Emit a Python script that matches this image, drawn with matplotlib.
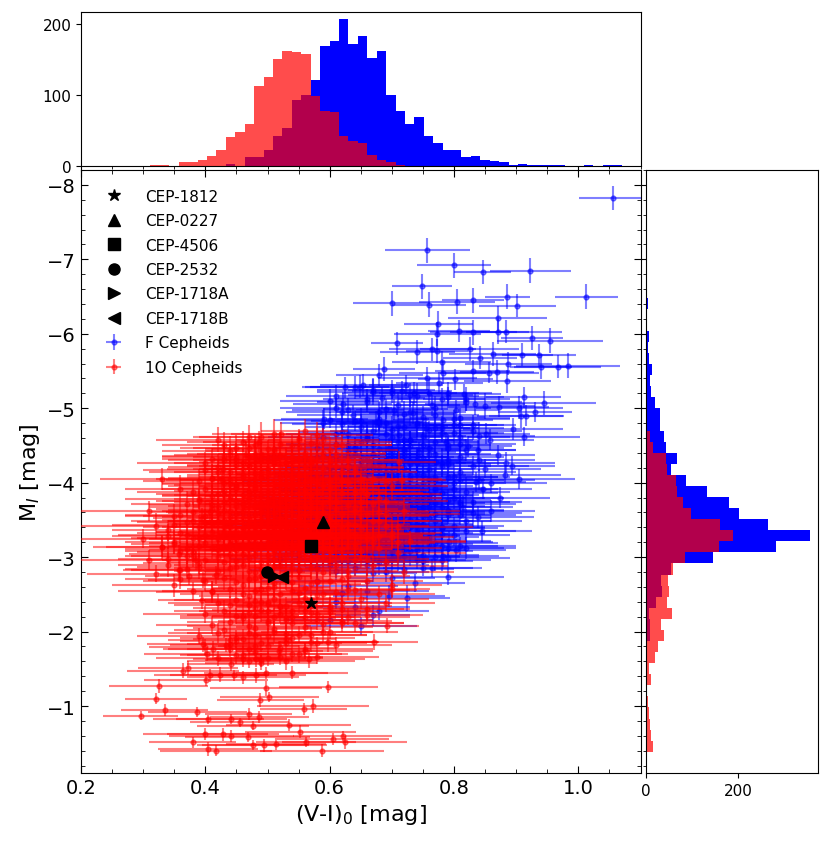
import numpy as np
import matplotlib.pyplot as plt
from matplotlib.ticker import MultipleLocator

# ---------------- marginal histograms (counts) ----------------
# (V-I)_0 bins: first edge and width, 51 bins
COL_BIN0 = 0.2966
COL_BINW = 0.01516
f_col_counts = [0, 0, 0, 0, 0, 0, 0, 0, 0, 3, 0, 12, 12, 22, 42, 54, 93, 100,
                121, 169, 175, 206, 172, 183, 152, 161, 100, 77, 59, 69, 42, 32,
                23, 22, 12, 14, 9, 7, 5, 2, 3, 1, 2, 1, 1, 0, 0, 1, 0, 1, 1]
o_col_counts = [0, 1, 1, 0, 5, 6, 8, 14, 22, 41, 48, 59, 112, 125, 150, 162, 160, 157,
                98, 77, 76, 42, 35, 32, 16, 8, 5, 2, 0, 0, 0, 0, 0, 0, 0, 0,
                0, 0, 0, 0, 0, 0, 0, 0, 0, 0, 0, 0, 0, 0, 0]

# M_I bins: first edge and width, 44 bins
MAG_BIN0 = -6.933
MAG_BINW = 0.1488
f_mag_counts = [3, 1, 1, 5, 1, 2, 6, 4, 7, 13, 10, 11, 21, 30, 31, 40, 44, 67, 55, 86,
                132, 180, 201, 263, 354, 280, 145, 55, 32, 35, 22, 8, 9, 9, 2, 1,
                0, 0, 0, 0, 0, 0, 0, 0]
o_mag_counts = [0, 0, 0, 0, 0, 0, 0, 0, 0, 0, 0, 0, 0, 0, 2, 9, 15, 43, 45, 65,
                68, 81, 97, 160, 188, 158, 84, 58, 47, 51, 46, 57, 33, 40, 27, 20,
                7, 11, 2, 4, 7, 9, 12, 15]

# ---------------- highlighted Cepheids ----------------
cep_names = ['CEP-1812', 'CEP-0227', 'CEP-4506', 'CEP-2532', 'CEP-1718A', 'CEP-1718B']
cep_x = [0.570, 0.589, 0.570, 0.499, 0.511, 0.523]
cep_y = [-2.38, -3.47, -3.15, -2.80, -2.75, -2.73]
cep_markers = ['*', '^', 's', 'o', '>', '<']

# ---------------- F Cepheids ----------------
f_x = [
    1.056, 0.757, 0.800, 0.846, 0.923, 0.749, 1.013, 0.700, 0.760, 0.805,
    0.830, 0.886, 0.902, 0.870, 0.775, 0.773, 0.808, 0.831, 0.870, 0.883,
    0.925, 0.954, 0.708, 0.741, 0.765, 0.772, 0.825, 0.842, 0.862, 0.910,
    0.937, 0.887, 0.940, 0.967, 0.983, 0.780, 0.688, 0.680, 0.830, 0.857,
    0.869, 0.886, 0.782, 0.757, 0.802, 0.654, 0.723, 0.776, 0.912, 0.944,
    0.905, 0.916, 0.907, 0.872, 0.852, 0.871, 0.883, 0.893, 0.823, 0.839,
    0.791, 0.816, 0.735, 0.716, 0.684, 0.764, 0.803, 0.834, 0.660, 0.703,
    0.734, 0.782, 0.755, 0.809, 0.712, 0.675, 0.787, 0.744, 0.696, 0.771,
    0.610, 0.625, 0.610, 0.621, 0.591, 0.637, 0.648, 0.790, 0.737, 0.724,
    0.696, 0.669, 0.765, 0.783, 0.804, 0.792, 0.839, 0.815, 0.819, 0.835,
    0.846, 0.882, 0.858, 0.895, 0.930, 0.912, 0.874, 0.860, 0.905, 0.845,
    0.62, 0.65, 0.68, 0.71, 0.74, 0.77, 0.80, 0.60, 0.70, 0.83,
    0.59, 0.63, 0.66, 0.69, 0.72, 0.75, 0.78, 0.81, 0.67, 0.73,
    0.58, 0.61, 0.64, 0.67, 0.70, 0.73, 0.76, 0.79, 0.65, 0.82,
    0.56, 0.59, 0.61, 0.63, 0.65, 0.67, 0.69, 0.71, 0.73, 0.75,
    0.77, 0.79, 0.81, 0.64, 0.68, 0.72, 0.60, 0.74, 0.84, 0.66,
    0.57, 0.60, 0.62, 0.65, 0.67, 0.70, 0.72, 0.74, 0.76, 0.78,
    0.81, 0.63, 0.69, 0.73, 0.59, 0.85, 0.66, 0.64, 0.71, 0.68,
    0.55, 0.57, 0.59, 0.61, 0.63, 0.64, 0.66, 0.68, 0.69, 0.71,
    0.73, 0.75, 0.77, 0.79, 0.62, 0.70, 0.74, 0.80, 0.58, 0.65,
    0.54, 0.56, 0.58, 0.60, 0.61, 0.63, 0.64, 0.66, 0.67, 0.69,
    0.70, 0.72, 0.73, 0.75, 0.77, 0.78, 0.80, 0.62, 0.65, 0.68,
    0.71, 0.74, 0.59, 0.57, 0.76, 0.82, 0.63, 0.69, 0.72, 0.66,
    0.53, 0.55, 0.57, 0.58, 0.60, 0.61, 0.62, 0.64, 0.65, 0.66,
    0.68, 0.69, 0.70, 0.71, 0.73, 0.74, 0.76, 0.77, 0.79, 0.81,
    0.56, 0.59, 0.63, 0.67, 0.72, 0.75, 0.78, 0.60, 0.66, 0.83,
    0.52, 0.54, 0.56, 0.57, 0.59, 0.60, 0.61, 0.63, 0.64, 0.65,
    0.67, 0.68, 0.69, 0.71, 0.72, 0.74, 0.75, 0.77, 0.79, 0.62,
    0.66, 0.70, 0.58, 0.73, 0.76, 0.63, 0.67, 0.81, 0.55, 0.69,
    0.52, 0.54, 0.55, 0.57, 0.58, 0.59, 0.61, 0.62, 0.63, 0.64,
    0.65, 0.66, 0.68, 0.69, 0.70, 0.72, 0.73, 0.75, 0.77, 0.80,
    0.60, 0.63, 0.67, 0.71, 0.56, 0.65, 0.74, 0.61, 0.69, 0.78,
    0.51, 0.53, 0.55, 0.56, 0.58, 0.59, 0.60, 0.61, 0.62, 0.63,
    0.64, 0.65, 0.66, 0.67, 0.68, 0.70, 0.71, 0.73, 0.74, 0.76,
    0.78, 0.60, 0.64, 0.66, 0.69, 0.57, 0.72, 0.62, 0.75, 0.80,
    0.51, 0.53, 0.54, 0.56, 0.57, 0.58, 0.59, 0.61, 0.62, 0.63,
    0.64, 0.65, 0.67, 0.68, 0.69, 0.71, 0.72, 0.74, 0.76, 0.79,
    0.60, 0.66, 0.70, 0.55, 0.64, 0.73, 0.61, 0.67, 0.78, 0.82,
    0.52, 0.55, 0.57, 0.59, 0.61, 0.63, 0.64, 0.66, 0.68, 0.70,
    0.72, 0.74, 0.77, 0.60, 0.65, 0.69, 0.58, 0.62, 0.67, 0.75,
    0.55, 0.58, 0.61, 0.64, 0.66, 0.69, 0.72, 0.60, 0.67, 0.75,
    0.58, 0.63, 0.66, 0.70, 0.61, 0.64, 0.68, 0.60, 0.65, 0.62,
    0.64, 0.67, 0.70, 0.73, 0.76, 0.79, 0.82, 0.66, 0.71, 0.77,
    0.63, 0.68, 0.72, 0.75, 0.80, 0.65, 0.69, 0.74, 0.78, 0.83,
    0.62, 0.66, 0.70, 0.73, 0.77, 0.81, 0.64, 0.68, 0.72, 0.76,
    0.65, 0.69, 0.74, 0.79, 0.63, 0.67, 0.71, 0.75, 0.80, 0.84,
    0.66, 0.70, 0.73, 0.77, 0.64, 0.68, 0.72, 0.76, 0.81, 0.69,
    0.65, 0.71, 0.75, 0.79, 0.67, 0.73, 0.63, 0.70, 0.78, 0.74,
    0.66, 0.72, 0.68, 0.76, 0.62, 0.70, 0.74, 0.65, 0.71, 0.78,
    0.60, 0.62, 0.59, 0.61, 0.63, 0.58, 0.60, 0.62, 0.61, 0.59,
    0.67, 0.70, 0.74, 0.78, 0.82, 0.85, 0.69, 0.73, 0.77, 0.81,
    0.64, 0.68, 0.72, 0.76, 0.80, 0.84, 0.66, 0.71, 0.75, 0.79,
    0.63, 0.67, 0.70, 0.74, 0.78, 0.83, 0.65, 0.69, 0.73, 0.77,
    0.81, 0.86, 0.64, 0.68, 0.72, 0.76, 0.80, 0.66, 0.70, 0.75,
    0.79, 0.83, 0.63, 0.67, 0.71, 0.74, 0.78, 0.82, 0.65, 0.69,
    0.73, 0.77, 0.81, 0.66, 0.70, 0.75, 0.79, 0.68, 0.72, 0.76,
]
f_y = [
    -7.82, -7.12, -6.92, -6.83, -6.85, -6.64, -6.50, -6.41, -6.39, -6.43,
    -6.45, -6.50, -6.38, -6.21, -6.13, -6.00, -6.04, -6.02, -6.03, -6.03,
    -5.94, -5.91, -5.87, -5.76, -5.79, -5.77, -5.80, -5.68, -5.73, -5.72,
    -5.71, -5.60, -5.56, -5.56, -5.57, -5.62, -5.53, -5.45, -5.50, -5.48,
    -5.49, -5.36, -5.48, -5.40, -5.39, -5.31, -5.31, -5.34, -5.15, -5.07,
    -5.01, -4.90, -4.89, -5.02, -4.66, -4.37, -4.27, -4.23, -4.49, -4.44,
    -5.20, -5.19, -5.20, -5.23, -5.14, -5.04, -4.97, -5.06, -5.12, -4.98,
    -4.94, -4.84, -4.73, -4.77, -4.64, -4.82, -4.55, -4.41, -4.46, -4.28,
    -5.16, -5.28, -5.01, -5.06, -4.86, -4.91, -5.29, -2.73, -2.65, -2.45,
    -2.48, -2.22, -2.85, -3.02, -3.09, -3.21, -3.54, -3.68, -3.49, -4.01,
    -3.92, -4.11, -4.58, -4.72, -4.95, -4.62, -3.80, -3.62, -4.05, -3.35,
    -4.79, -4.75, -4.82, -4.76, -4.80, -4.73, -4.78, -4.84, -4.71, -4.77,
    -4.62, -4.66, -4.60, -4.65, -4.58, -4.63, -4.67, -4.61, -4.69, -4.57,
    -4.47, -4.52, -4.45, -4.50, -4.43, -4.49, -4.46, -4.51, -4.54, -4.44,
    -4.32, -4.36, -4.30, -4.34, -4.28, -4.37, -4.31, -4.35, -4.29, -4.33,
    -4.38, -4.30, -4.34, -4.39, -4.27, -4.36, -4.28, -4.26, -4.31, -4.33,
    -4.17, -4.21, -4.14, -4.19, -4.23, -4.16, -4.20, -4.13, -4.18, -4.22,
    -4.15, -4.24, -4.12, -4.25, -4.13, -4.19, -4.15, -4.11, -4.24, -4.19,
    -4.02, -4.06, -3.99, -4.04, -4.08, -3.98, -4.03, -4.07, -3.97, -4.01,
    -4.05, -3.99, -4.04, -4.08, -4.10, -4.09, -3.96, -4.00, -4.09, -3.96,
    -3.87, -3.91, -3.84, -3.89, -3.93, -3.85, -3.90, -3.83, -3.88, -3.92,
    -3.86, -3.90, -3.84, -3.89, -3.93, -3.86, -3.91, -3.95, -3.94, -3.82,
    -3.95, -3.82, -3.95, -3.82, -3.84, -3.87, -3.81, -3.85, -3.94, -3.89,
    -3.72, -3.76, -3.70, -3.74, -3.78, -3.69, -3.73, -3.77, -3.68, -3.72,
    -3.76, -3.70, -3.74, -3.79, -3.71, -3.75, -3.69, -3.73, -3.77, -3.71,
    -3.80, -3.67, -3.80, -3.67, -3.67, -3.79, -3.67, -3.71, -3.78, -3.74,
    -3.57, -3.61, -3.55, -3.59, -3.63, -3.54, -3.58, -3.62, -3.53, -3.57,
    -3.61, -3.55, -3.59, -3.64, -3.56, -3.60, -3.54, -3.58, -3.62, -3.65,
    -3.52, -3.65, -3.52, -3.64, -3.52, -3.56, -3.63, -3.57, -3.64, -3.56,
    -3.43, -3.47, -3.41, -3.45, -3.49, -3.40, -3.44, -3.48, -3.39, -3.43,
    -3.47, -3.41, -3.45, -3.50, -3.42, -3.46, -3.40, -3.44, -3.48, -3.42,
    -3.37, -3.50, -3.38, -3.38, -3.50, -3.45, -3.49, -3.46, -3.43, -3.39,
    -3.28, -3.32, -3.26, -3.30, -3.34, -3.25, -3.29, -3.33, -3.24, -3.28,
    -3.32, -3.26, -3.30, -3.35, -3.27, -3.31, -3.25, -3.29, -3.33, -3.27,
    -3.31, -3.23, -3.35, -3.23, -3.34, -3.23, -3.35, -3.30, -3.24, -3.30,
    -3.13, -3.17, -3.11, -3.15, -3.19, -3.10, -3.14, -3.18, -3.09, -3.13,
    -3.17, -3.11, -3.15, -3.20, -3.12, -3.16, -3.10, -3.14, -3.18, -3.12,
    -3.20, -3.08, -3.19, -3.08, -3.14, -3.08, -3.16, -3.19, -3.15, -3.12,
    -2.98, -3.02, -2.96, -3.00, -3.04, -2.95, -2.99, -3.03, -2.94, -2.98,
    -3.02, -2.96, -3.00, -2.93, -3.05, -2.93, -3.05, -2.97, -2.99, -2.95,
    -2.83, -2.87, -2.81, -2.85, -2.89, -2.80, -2.84, -2.90, -2.79, -2.86,
    -2.68, -2.61, -2.55, -2.72, -2.40, -2.33, -2.27, -2.15, -2.08, -2.52,
    -5.28, -5.22, -5.25, -5.18, -5.21, -5.15, -5.12, -5.08, -5.05, -5.01,
    -4.98, -4.95, -4.92, -4.88, -4.86, -4.83, -4.80, -4.77, -4.74, -4.70,
    -4.68, -4.64, -4.61, -4.58, -4.55, -4.52, -4.48, -4.45, -4.42, -4.38,
    -4.35, -4.31, -4.28, -4.25, -4.21, -4.18, -4.14, -4.11, -4.08, -4.04,
    -4.01, -3.97, -3.94, -3.90, -3.87, -3.84, -3.80, -3.77, -3.74, -3.70,
    -3.67, -3.64, -3.60, -3.57, -3.54, -3.50, -3.47, -3.44, -3.40, -3.36,
    -3.33, -3.30, -3.26, -3.22, -3.18, -3.14, -3.10, -3.05, -3.00, -2.96,
    -5.10, -4.95, -4.80, -4.65, -4.50, -4.35, -4.20, -4.05, -3.90, -3.75,
    -5.25, -5.20, -5.16, -5.12, -5.08, -5.03, -4.99, -4.95, -4.91, -4.87,
    -4.83, -4.79, -4.75, -4.71, -4.67, -4.63, -4.59, -4.55, -4.51, -4.47,
    -4.43, -4.39, -4.35, -4.31, -4.27, -4.23, -4.19, -4.15, -4.11, -4.07,
    -4.03, -3.99, -3.95, -3.91, -3.87, -3.83, -3.79, -3.75, -3.71, -3.67,
    -3.63, -3.59, -3.55, -3.51, -3.47, -3.43, -3.39, -3.35, -3.31, -3.27,
    -3.23, -3.19, -3.15, -3.11, -3.07, -3.03, -2.99, -4.85, -4.45, -4.05,
]
f_xerr = [
    0.055, 0.068, 0.060, 0.046, 0.065, 0.048, 0.051, 0.062, 0.059, 0.061,
    0.050, 0.036, 0.062, 0.080, 0.055, 0.070, 0.050, 0.070, 0.050, 0.090,
    0.050, 0.085, 0.042, 0.060, 0.070, 0.050, 0.080, 0.060, 0.070, 0.050,
    0.060, 0.070, 0.050, 0.070, 0.084, 0.080, 0.050, 0.070, 0.060, 0.080,
    0.060, 0.070, 0.070, 0.080, 0.060, 0.070, 0.060, 0.070, 0.060, 0.085,
    0.070, 0.060, 0.070, 0.080, 0.070, 0.060, 0.080, 0.070, 0.070, 0.060,
    0.070, 0.060, 0.070, 0.080, 0.070, 0.060, 0.070, 0.080, 0.070, 0.060,
    0.070, 0.080, 0.070, 0.060, 0.070, 0.080, 0.070, 0.060, 0.070, 0.080,
    0.080, 0.070, 0.090, 0.080, 0.070, 0.090, 0.080, 0.090, 0.080, 0.070,
    0.090, 0.060, 0.080, 0.090, 0.080, 0.070, 0.090, 0.080, 0.090, 0.080,
    0.080, 0.090, 0.070, 0.080, 0.060, 0.090, 0.080, 0.070, 0.090, 0.080,
    0.08, 0.09, 0.07, 0.08, 0.10, 0.07, 0.08, 0.09, 0.08, 0.07,
    0.09, 0.07, 0.08, 0.10, 0.08, 0.07, 0.09, 0.08, 0.07, 0.09,
    0.07, 0.08, 0.09, 0.08, 0.07, 0.10, 0.08, 0.07, 0.09, 0.08,
    0.08, 0.09, 0.07, 0.08, 0.10, 0.08, 0.07, 0.09, 0.08, 0.07,
    0.09, 0.08, 0.07, 0.10, 0.08, 0.09, 0.07, 0.08, 0.09, 0.08,
    0.08, 0.07, 0.09, 0.08, 0.10, 0.07, 0.08, 0.09, 0.07, 0.08,
    0.09, 0.08, 0.10, 0.07, 0.08, 0.09, 0.08, 0.07, 0.09, 0.08,
    0.09, 0.08, 0.07, 0.10, 0.08, 0.09, 0.07, 0.08, 0.09, 0.08,
    0.07, 0.09, 0.08, 0.10, 0.08, 0.07, 0.09, 0.08, 0.07, 0.09,
    0.08, 0.07, 0.09, 0.08, 0.10, 0.08, 0.07, 0.09, 0.08, 0.07,
    0.09, 0.08, 0.07, 0.10, 0.08, 0.09, 0.07, 0.08, 0.09, 0.08,
    0.07, 0.09, 0.08, 0.10, 0.08, 0.07, 0.09, 0.08, 0.07, 0.09,
    0.08, 0.09, 0.07, 0.08, 0.10, 0.07, 0.08, 0.09, 0.08, 0.07,
    0.09, 0.07, 0.08, 0.10, 0.08, 0.07, 0.09, 0.08, 0.07, 0.09,
    0.07, 0.08, 0.09, 0.08, 0.07, 0.10, 0.08, 0.07, 0.09, 0.08,
    0.08, 0.09, 0.07, 0.08, 0.10, 0.08, 0.07, 0.09, 0.08, 0.07,
    0.09, 0.08, 0.07, 0.10, 0.08, 0.09, 0.07, 0.08, 0.09, 0.08,
    0.08, 0.07, 0.09, 0.08, 0.10, 0.07, 0.08, 0.09, 0.07, 0.08,
    0.09, 0.08, 0.10, 0.07, 0.08, 0.09, 0.08, 0.07, 0.09, 0.08,
    0.09, 0.08, 0.07, 0.10, 0.08, 0.09, 0.07, 0.08, 0.09, 0.08,
    0.07, 0.09, 0.08, 0.10, 0.08, 0.07, 0.09, 0.08, 0.07, 0.09,
    0.08, 0.07, 0.09, 0.08, 0.10, 0.08, 0.07, 0.09, 0.08, 0.07,
    0.09, 0.08, 0.07, 0.10, 0.08, 0.09, 0.07, 0.08, 0.09, 0.08,
    0.07, 0.09, 0.08, 0.10, 0.08, 0.07, 0.09, 0.08, 0.07, 0.09,
    0.08, 0.09, 0.07, 0.08, 0.10, 0.07, 0.08, 0.09, 0.08, 0.07,
    0.09, 0.07, 0.08, 0.10, 0.08, 0.07, 0.09, 0.08, 0.07, 0.09,
    0.07, 0.08, 0.09, 0.08, 0.07, 0.10, 0.08, 0.07, 0.09, 0.08,
    0.08, 0.09, 0.07, 0.08, 0.10, 0.08, 0.07, 0.09, 0.08, 0.07,
    0.09, 0.08, 0.07, 0.10, 0.08, 0.09, 0.07, 0.08, 0.09, 0.08,
    0.08, 0.07, 0.09, 0.08, 0.10, 0.07, 0.08, 0.09, 0.07, 0.08,
    0.09, 0.08, 0.10, 0.07, 0.08, 0.09, 0.08, 0.07, 0.09, 0.08,
    0.08, 0.09, 0.07, 0.10, 0.08, 0.09, 0.07, 0.08, 0.10, 0.09,
    0.09, 0.07, 0.08, 0.10, 0.09, 0.08, 0.07, 0.09, 0.10, 0.08,
    0.07, 0.09, 0.08, 0.10, 0.07, 0.09, 0.08, 0.09, 0.10, 0.08,
    0.10, 0.08, 0.09, 0.07, 0.08, 0.10, 0.09, 0.08, 0.07, 0.09,
    0.08, 0.10, 0.07, 0.09, 0.08, 0.09, 0.10, 0.07, 0.08, 0.09,
    0.09, 0.08, 0.10, 0.07, 0.09, 0.08, 0.10, 0.09, 0.07, 0.08,
    0.07, 0.09, 0.08, 0.10, 0.09, 0.07, 0.08, 0.09, 0.10, 0.08,
    0.08, 0.09, 0.07, 0.08, 0.10, 0.09, 0.08, 0.07, 0.09, 0.08,
    0.09, 0.08, 0.10, 0.07, 0.09, 0.08, 0.10, 0.09, 0.07, 0.08,
    0.08, 0.10, 0.09, 0.07, 0.08, 0.09, 0.10, 0.08, 0.07, 0.09,
    0.10, 0.07, 0.09, 0.08, 0.10, 0.09, 0.08, 0.07, 0.09, 0.10,
    0.07, 0.09, 0.08, 0.10, 0.09, 0.07, 0.08, 0.09, 0.10, 0.08,
    0.09, 0.08, 0.07, 0.10, 0.08, 0.09, 0.07, 0.08, 0.10, 0.09,
    0.08, 0.10, 0.09, 0.07, 0.08, 0.09, 0.10, 0.08, 0.09, 0.07,
]
f_yerr = [
    0.16, 0.17, 0.17, 0.16, 0.17, 0.17, 0.17, 0.17, 0.17, 0.17,
    0.17, 0.17, 0.16, 0.17, 0.17, 0.16, 0.15, 0.17, 0.17, 0.15,
    0.16, 0.17, 0.16, 0.16, 0.15, 0.16, 0.16, 0.15, 0.16, 0.15,
    0.15, 0.16, 0.17, 0.15, 0.17, 0.15, 0.16, 0.15, 0.15, 0.14,
    0.16, 0.16, 0.15, 0.15, 0.14, 0.15, 0.14, 0.15, 0.14, 0.16,
    0.15, 0.14, 0.15, 0.14, 0.14, 0.13, 0.14, 0.13, 0.14, 0.13,
    0.15, 0.14, 0.15, 0.14, 0.15, 0.14, 0.14, 0.15, 0.14, 0.14,
    0.15, 0.14, 0.14, 0.13, 0.14, 0.14, 0.13, 0.13, 0.14, 0.13,
    0.15, 0.14, 0.14, 0.15, 0.14, 0.14, 0.15, 0.10, 0.12, 0.18,
    0.15, 0.14, 0.12, 0.15, 0.16, 0.14, 0.15, 0.14, 0.15, 0.14,
    0.14, 0.13, 0.14, 0.15, 0.14, 0.13, 0.14, 0.15, 0.13, 0.14,
    0.14, 0.17, 0.12, 0.15, 0.19, 0.13, 0.16, 0.11, 0.18, 0.14,
    0.16, 0.12, 0.18, 0.14, 0.11, 0.17, 0.13, 0.19, 0.15, 0.12,
    0.13, 0.18, 0.15, 0.11, 0.16, 0.20, 0.12, 0.14, 0.17, 0.15,
    0.14, 0.17, 0.12, 0.15, 0.19, 0.13, 0.16, 0.11, 0.18, 0.14,
    0.16, 0.12, 0.18, 0.14, 0.11, 0.17, 0.13, 0.19, 0.15, 0.12,
    0.13, 0.18, 0.15, 0.11, 0.16, 0.20, 0.12, 0.14, 0.17, 0.15,
    0.14, 0.17, 0.12, 0.15, 0.19, 0.13, 0.16, 0.11, 0.18, 0.14,
    0.16, 0.12, 0.18, 0.14, 0.11, 0.17, 0.13, 0.19, 0.15, 0.12,
    0.13, 0.18, 0.15, 0.11, 0.16, 0.20, 0.12, 0.14, 0.17, 0.15,
    0.14, 0.17, 0.12, 0.15, 0.19, 0.13, 0.16, 0.11, 0.18, 0.14,
    0.16, 0.12, 0.18, 0.14, 0.11, 0.17, 0.13, 0.19, 0.15, 0.12,
    0.13, 0.18, 0.15, 0.11, 0.16, 0.20, 0.12, 0.14, 0.17, 0.15,
    0.14, 0.17, 0.12, 0.15, 0.19, 0.13, 0.16, 0.11, 0.18, 0.14,
    0.16, 0.12, 0.18, 0.14, 0.11, 0.17, 0.13, 0.19, 0.15, 0.12,
    0.13, 0.18, 0.15, 0.11, 0.16, 0.20, 0.12, 0.14, 0.17, 0.15,
    0.14, 0.17, 0.12, 0.15, 0.19, 0.13, 0.16, 0.11, 0.18, 0.14,
    0.16, 0.12, 0.18, 0.14, 0.11, 0.17, 0.13, 0.19, 0.15, 0.12,
    0.13, 0.18, 0.15, 0.11, 0.16, 0.20, 0.12, 0.14, 0.17, 0.15,
    0.14, 0.17, 0.12, 0.15, 0.19, 0.13, 0.16, 0.11, 0.18, 0.14,
    0.16, 0.12, 0.18, 0.14, 0.11, 0.17, 0.13, 0.19, 0.15, 0.12,
    0.13, 0.18, 0.15, 0.11, 0.16, 0.20, 0.12, 0.14, 0.17, 0.15,
    0.14, 0.17, 0.12, 0.15, 0.19, 0.13, 0.16, 0.11, 0.18, 0.14,
    0.16, 0.12, 0.18, 0.14, 0.11, 0.17, 0.13, 0.19, 0.15, 0.12,
    0.13, 0.18, 0.15, 0.11, 0.16, 0.20, 0.12, 0.14, 0.17, 0.15,
    0.14, 0.17, 0.12, 0.15, 0.19, 0.13, 0.16, 0.11, 0.18, 0.14,
    0.16, 0.12, 0.18, 0.14, 0.11, 0.17, 0.13, 0.19, 0.15, 0.12,
    0.13, 0.18, 0.15, 0.11, 0.16, 0.20, 0.12, 0.14, 0.17, 0.15,
    0.14, 0.17, 0.12, 0.15, 0.19, 0.13, 0.16, 0.11, 0.18, 0.14,
    0.16, 0.12, 0.18, 0.14, 0.11, 0.17, 0.13, 0.19, 0.15, 0.12,
    0.13, 0.15, 0.12, 0.11, 0.14, 0.13, 0.12, 0.14, 0.13, 0.12,
    0.12, 0.11, 0.13, 0.12, 0.10, 0.12, 0.11, 0.10, 0.12, 0.11,
    0.15, 0.17, 0.13, 0.16, 0.18, 0.14, 0.16, 0.13, 0.17, 0.15,
    0.16, 0.13, 0.18, 0.15, 0.12, 0.17, 0.14, 0.19, 0.15, 0.13,
    0.14, 0.18, 0.15, 0.12, 0.16, 0.19, 0.13, 0.15, 0.17, 0.14,
    0.15, 0.19, 0.12, 0.17, 0.20, 0.13, 0.16, 0.12, 0.18, 0.14,
    0.17, 0.13, 0.19, 0.15, 0.12, 0.18, 0.14, 0.20, 0.16, 0.12,
    0.13, 0.18, 0.16, 0.12, 0.19, 0.21, 0.14, 0.15, 0.17, 0.13,
    0.15, 0.19, 0.12, 0.17, 0.20, 0.13, 0.16, 0.12, 0.18, 0.14,
    0.16, 0.15, 0.17, 0.14, 0.16, 0.15, 0.17, 0.14, 0.16, 0.15,
    0.16, 0.13, 0.18, 0.15, 0.12, 0.17, 0.14, 0.19, 0.15, 0.13,
    0.14, 0.18, 0.15, 0.12, 0.16, 0.19, 0.13, 0.15, 0.17, 0.14,
    0.15, 0.19, 0.12, 0.17, 0.20, 0.13, 0.16, 0.12, 0.18, 0.14,
    0.17, 0.13, 0.19, 0.15, 0.12, 0.18, 0.14, 0.20, 0.16, 0.12,
    0.13, 0.18, 0.16, 0.12, 0.19, 0.21, 0.14, 0.15, 0.17, 0.13,
    0.15, 0.19, 0.12, 0.17, 0.20, 0.13, 0.16, 0.14, 0.17, 0.15,
]

# ---------------- 1O Cepheids ----------------
o_x = [
    0.296, 0.321, 0.325, 0.335, 0.387, 0.405, 0.400, 0.404, 0.417, 0.380,
    0.442, 0.442, 0.455, 0.428, 0.470, 0.468, 0.476, 0.487, 0.495, 0.476,
    0.514, 0.488, 0.497, 0.503, 0.534, 0.553, 0.562, 0.558, 0.573, 0.598,
    0.588, 0.605, 0.621, 0.624, 0.364, 0.372, 0.401, 0.407, 0.423, 0.446,
    0.460, 0.482, 0.498, 0.540, 0.441, 0.460, 0.396, 0.402, 0.412, 0.433,
    0.358, 0.357, 0.373, 0.385, 0.397, 0.394, 0.411, 0.417, 0.395, 0.407,
    0.427, 0.482, 0.519, 0.567, 0.597, 0.693, 0.672, 0.701, 0.717, 0.711,
    0.428, 0.466, 0.486, 0.522, 0.482, 0.691, 0.656, 0.620, 0.560, 0.590,
    0.47, 0.51, 0.55, 0.58,
    0.45, 0.48, 0.51, 0.54, 0.57, 0.60,
    0.41, 0.43, 0.45, 0.47, 0.48, 0.50, 0.51, 0.52, 0.54, 0.55,
    0.56, 0.58, 0.59, 0.61, 0.63, 0.46, 0.49, 0.53, 0.57, 0.44,
    0.40, 0.42, 0.44, 0.46, 0.47, 0.49, 0.50, 0.52, 0.53, 0.54,
    0.56, 0.57, 0.59, 0.60, 0.62, 0.64, 0.48, 0.51, 0.55, 0.45,
    0.39, 0.41, 0.43, 0.44, 0.46, 0.47, 0.48, 0.49, 0.50, 0.51,
    0.52, 0.53, 0.54, 0.55, 0.56, 0.57, 0.58, 0.60, 0.61, 0.63,
    0.65, 0.45, 0.50, 0.53, 0.56, 0.59,
    0.38, 0.40, 0.42, 0.43, 0.45, 0.46, 0.47, 0.48, 0.49, 0.50,
    0.51, 0.52, 0.53, 0.54, 0.55, 0.56, 0.57, 0.58, 0.60, 0.62,
    0.64, 0.66, 0.44, 0.48, 0.51, 0.54, 0.57, 0.61,
    0.37, 0.39, 0.41, 0.43, 0.44, 0.45, 0.46, 0.47, 0.48, 0.49,
    0.50, 0.51, 0.52, 0.53, 0.54, 0.55, 0.56, 0.57, 0.58, 0.59,
    0.61, 0.63, 0.65, 0.67, 0.42, 0.47, 0.50, 0.53, 0.56, 0.60,
    0.36, 0.38, 0.40, 0.42, 0.43, 0.44, 0.45, 0.46, 0.47, 0.48,
    0.49, 0.50, 0.51, 0.52, 0.53, 0.54, 0.55, 0.56, 0.57, 0.58,
    0.59, 0.60, 0.62, 0.64, 0.66, 0.68, 0.41, 0.46, 0.49, 0.52,
    0.55, 0.58, 0.61, 0.50,
    0.35, 0.37, 0.39, 0.41, 0.42, 0.43, 0.44, 0.45, 0.46, 0.47,
    0.48, 0.48, 0.49, 0.50, 0.50, 0.51, 0.52, 0.52, 0.53, 0.54,
    0.54, 0.55, 0.56, 0.56, 0.57, 0.58, 0.59, 0.60, 0.61, 0.62,
    0.63, 0.65, 0.67, 0.69, 0.40, 0.44, 0.47, 0.50, 0.53, 0.55,
    0.57, 0.59, 0.46, 0.49, 0.51, 0.53, 0.55, 0.58, 0.60, 0.64,
    0.34, 0.36, 0.38, 0.40, 0.41, 0.42, 0.43, 0.44, 0.45, 0.46,
    0.47, 0.47, 0.48, 0.49, 0.49, 0.50, 0.51, 0.51, 0.52, 0.52,
    0.53, 0.53, 0.54, 0.55, 0.55, 0.56, 0.57, 0.57, 0.58, 0.59,
    0.60, 0.61, 0.62, 0.63, 0.64, 0.66, 0.68, 0.70, 0.39, 0.45,
    0.48, 0.50, 0.52, 0.54, 0.56, 0.58, 0.44, 0.46, 0.50, 0.53,
    0.55, 0.57, 0.59, 0.61, 0.43, 0.47, 0.51, 0.54, 0.49, 0.62,
    0.33, 0.35, 0.37, 0.39, 0.40, 0.42, 0.43, 0.44, 0.45, 0.46,
    0.47, 0.48, 0.48, 0.49, 0.50, 0.51, 0.51, 0.52, 0.53, 0.53,
    0.54, 0.55, 0.56, 0.56, 0.57, 0.58, 0.59, 0.60, 0.61, 0.62,
    0.63, 0.65, 0.67, 0.41, 0.44, 0.47, 0.50, 0.52, 0.55, 0.58,
    0.46, 0.49, 0.51, 0.54, 0.57, 0.60, 0.38, 0.45, 0.52, 0.64,
    0.34, 0.37, 0.40, 0.42, 0.44, 0.45, 0.47, 0.48, 0.50, 0.51,
    0.52, 0.54, 0.55, 0.57, 0.58, 0.60, 0.62, 0.64, 0.46, 0.49,
    0.53, 0.56, 0.43, 0.59, 0.50, 0.66, 0.39, 0.55,
    0.36, 0.39, 0.42, 0.44, 0.46, 0.48, 0.49, 0.51, 0.53, 0.55,
    0.57, 0.59, 0.61, 0.63, 0.45, 0.50, 0.54, 0.47, 0.52, 0.58,
    0.40, 0.43, 0.45, 0.47, 0.49, 0.51, 0.53, 0.55, 0.57, 0.60,
    0.62, 0.46, 0.50, 0.54, 0.48, 0.58,
    0.41, 0.44, 0.46, 0.48, 0.50, 0.52, 0.54, 0.56, 0.58, 0.61,
    0.63, 0.47, 0.51, 0.55, 0.49, 0.59,
    0.42, 0.45, 0.47, 0.49, 0.51, 0.53, 0.55, 0.57, 0.60, 0.62,
    0.48, 0.52, 0.56, 0.50,
    0.40, 0.43, 0.45, 0.47, 0.49, 0.51, 0.52, 0.54, 0.56, 0.58,
    0.60, 0.63, 0.66, 0.46, 0.50, 0.53, 0.57, 0.48,
    0.41, 0.44, 0.47, 0.50, 0.53, 0.56, 0.59, 0.62, 0.48, 0.54,
    0.39, 0.42, 0.45, 0.48, 0.51, 0.54, 0.57, 0.60, 0.46, 0.50,
    0.53, 0.44,
    0.40, 0.44, 0.47, 0.50, 0.53, 0.56, 0.48, 0.58,
    0.42, 0.45, 0.49, 0.52, 0.55, 0.47,
    0.42, 0.46, 0.49, 0.52, 0.55, 0.58, 0.61, 0.44, 0.50, 0.56,
    0.40, 0.43, 0.47, 0.51, 0.54, 0.57, 0.60, 0.63, 0.48, 0.53,
    0.41, 0.45, 0.49, 0.52, 0.55, 0.59, 0.62, 0.65, 0.47, 0.57,
    0.39, 0.43, 0.46, 0.50, 0.53, 0.56, 0.60, 0.64, 0.44, 0.58,
    0.64, 0.67, 0.70, 0.66, 0.69, 0.72, 0.65, 0.68, 0.71, 0.63,
    0.66, 0.70, 0.73, 0.64, 0.68, 0.71, 0.65, 0.69, 0.67, 0.72,
    0.63, 0.66, 0.70, 0.64, 0.68, 0.65, 0.69, 0.62, 0.66, 0.64,
    0.33, 0.36, 0.31, 0.35, 0.38, 0.32, 0.34, 0.37, 0.30, 0.35,
    0.33, 0.36, 0.38, 0.31, 0.34, 0.37, 0.32, 0.36, 0.35, 0.38,
    0.44, 0.48, 0.52, 0.56, 0.60, 0.46, 0.50, 0.54, 0.58, 0.62,
    0.43, 0.47, 0.51, 0.55, 0.59, 0.45, 0.49, 0.53, 0.57, 0.61,
    0.44, 0.48, 0.52, 0.56, 0.46, 0.50, 0.54, 0.58, 0.49, 0.53,
    0.43, 0.47, 0.51, 0.55, 0.59, 0.45, 0.49, 0.53, 0.57, 0.61,
    0.42, 0.46, 0.50, 0.54, 0.58, 0.62, 0.44, 0.48, 0.52, 0.56,
    0.60, 0.64, 0.68, 0.41, 0.45, 0.49, 0.53, 0.57, 0.61, 0.65,
    0.69, 0.43, 0.47, 0.51, 0.55, 0.59, 0.63, 0.67, 0.71, 0.50,
]
o_y = [
    -0.87, -1.10, -1.27, -0.95, -0.92, -0.825, -0.62, -0.42, -0.40, -0.51,
    -0.825, -0.60, -0.78, -0.62, -0.89, -0.58, -0.735, -0.85, -0.47, -0.475,
    -0.49, -1.08, -1.24, -1.12, -0.745, -0.655, -0.52, -0.96, -1.00, -1.25,
    -0.40, -0.555, -0.60, -0.51, -1.475, -1.51, -1.355, -1.41, -1.42, -1.41,
    -1.385, -1.41, -1.445, -1.45, -1.565, -1.63, -1.83, -1.70, -1.77, -1.82,
    -3.045, -2.83, -2.74, -2.955, -2.69, -2.42, -2.55, -2.755, -3.52, -3.61,
    -4.03, -1.63, -1.745, -1.63, -1.86, -2.08, -1.86, -2.57, -4.03, -4.28,
    -4.19, -4.39, -4.55, -4.66, -4.32, -3.99, -3.90, -4.50, -4.70, -4.58,
    -4.62, -4.66, -4.60, -4.64,
    -4.47, -4.51, -4.45, -4.49, -4.53, -4.44,
    -4.32, -4.36, -4.30, -4.34, -4.38, -4.29, -4.33, -4.37, -4.28, -4.32,
    -4.36, -4.30, -4.34, -4.39, -4.31, -4.27, -4.39, -4.27, -4.28, -4.37,
    -4.17, -4.21, -4.15, -4.19, -4.23, -4.14, -4.18, -4.22, -4.13, -4.17,
    -4.21, -4.15, -4.19, -4.24, -4.16, -4.20, -4.12, -4.25, -4.12, -4.24,
    -4.02, -4.06, -4.00, -4.04, -4.08, -3.99, -4.03, -4.07, -3.98, -4.02,
    -4.06, -4.00, -4.04, -4.09, -4.01, -4.05, -3.99, -4.03, -4.07, -4.01,
    -4.05, -3.97, -4.10, -3.97, -4.10, -3.97,
    -3.87, -3.91, -3.85, -3.89, -3.93, -3.84, -3.88, -3.92, -3.83, -3.87,
    -3.91, -3.85, -3.89, -3.94, -3.86, -3.90, -3.84, -3.88, -3.92, -3.86,
    -3.90, -3.85, -3.82, -3.95, -3.82, -3.95, -3.83, -3.94,
    -3.72, -3.76, -3.70, -3.74, -3.78, -3.69, -3.73, -3.77, -3.68, -3.72,
    -3.76, -3.70, -3.74, -3.79, -3.71, -3.75, -3.69, -3.73, -3.77, -3.71,
    -3.75, -3.70, -3.74, -3.72, -3.67, -3.80, -3.67, -3.80, -3.67, -3.79,
    -3.57, -3.61, -3.55, -3.59, -3.63, -3.54, -3.58, -3.62, -3.53, -3.57,
    -3.61, -3.55, -3.59, -3.64, -3.56, -3.60, -3.54, -3.58, -3.62, -3.56,
    -3.60, -3.54, -3.58, -3.62, -3.56, -3.60, -3.64, -3.52, -3.65, -3.52,
    -3.65, -3.52, -3.64, -3.58,
    -3.43, -3.47, -3.41, -3.45, -3.49, -3.40, -3.44, -3.48, -3.39, -3.43,
    -3.46, -3.40, -3.50, -3.42, -3.47, -3.38, -3.45, -3.41, -3.49, -3.44,
    -3.39, -3.48, -3.42, -3.46, -3.40, -3.50, -3.43, -3.37, -3.47, -3.41,
    -3.45, -3.38, -3.49, -3.42, -3.46, -3.40, -3.44, -3.48, -3.41, -3.50,
    -3.42, -3.46, -3.39, -3.44, -3.48, -3.41, -3.37, -3.45, -3.50, -3.43,
    -3.28, -3.32, -3.26, -3.30, -3.34, -3.25, -3.29, -3.33, -3.24, -3.28,
    -3.31, -3.25, -3.35, -3.27, -3.32, -3.23, -3.30, -3.26, -3.34, -3.29,
    -3.24, -3.33, -3.27, -3.31, -3.25, -3.35, -3.28, -3.22, -3.32, -3.26,
    -3.30, -3.23, -3.34, -3.27, -3.31, -3.25, -3.29, -3.33, -3.26, -3.35,
    -3.27, -3.31, -3.24, -3.29, -3.33, -3.26, -3.22, -3.30, -3.35, -3.28,
    -3.32, -3.26, -3.30, -3.23, -3.34, -3.28, -3.25, -3.31, -3.27, -3.29,
    -3.13, -3.17, -3.11, -3.15, -3.19, -3.10, -3.14, -3.18, -3.09, -3.13,
    -3.16, -3.10, -3.20, -3.12, -3.17, -3.08, -3.15, -3.11, -3.19, -3.14,
    -3.09, -3.18, -3.12, -3.16, -3.10, -3.20, -3.13, -3.07, -3.17, -3.11,
    -3.15, -3.08, -3.19, -3.12, -3.16, -3.10, -3.14, -3.18, -3.11, -3.20,
    -3.12, -3.16, -3.09, -3.14, -3.18, -3.11, -3.07, -3.15, -3.20, -3.13,
    -2.98, -3.02, -2.96, -3.00, -3.04, -2.95, -2.99, -3.03, -2.94, -2.98,
    -3.01, -2.95, -3.05, -2.97, -3.02, -2.93, -3.00, -2.96, -3.04, -2.93,
    -2.99, -3.05, -2.94, -3.01, -3.03, -2.97, -2.92, -2.96,
    -2.83, -2.87, -2.81, -2.85, -2.89, -2.80, -2.84, -2.88, -2.79, -2.83,
    -2.86, -2.80, -2.90, -2.82, -2.87, -2.78, -2.85, -2.81, -2.89, -2.84,
    -2.68, -2.72, -2.66, -2.70, -2.74, -2.65, -2.69, -2.73, -2.64, -2.68,
    -2.71, -2.63, -2.75, -2.67, -2.72, -2.66,
    -2.53, -2.57, -2.51, -2.55, -2.59, -2.50, -2.54, -2.58, -2.49, -2.53,
    -2.56, -2.48, -2.60, -2.52, -2.57, -2.51,
    -2.38, -2.42, -2.36, -2.40, -2.44, -2.35, -2.39, -2.43, -2.34, -2.38,
    -2.41, -2.33, -2.45, -2.37,
    -2.23, -2.27, -2.21, -2.25, -2.29, -2.20, -2.24, -2.28, -2.19, -2.23,
    -2.26, -2.20, -2.30, -2.22, -2.27, -2.18, -2.25, -2.21,
    -2.09, -2.13, -2.07, -2.11, -2.15, -2.06, -2.10, -2.14, -2.05, -2.12,
    -1.94, -1.98, -1.92, -1.96, -2.00, -1.91, -1.95, -1.99, -1.90, -1.94,
    -1.97, -1.89,
    -1.79, -1.83, -1.77, -1.81, -1.85, -1.76, -1.80, -1.84,
    -1.64, -1.68, -1.62, -1.66, -1.70, -1.61,
    -4.58, -4.55, -4.61, -4.52, -4.57, -4.54, -4.50, -4.42, -4.45, -4.40,
    -4.26, -4.31, -4.22, -4.28, -4.35, -4.25, -4.30, -4.21, -4.18, -4.12,
    -4.05, -3.95, -4.08, -3.92, -4.00, -3.96, -4.03, -3.90, -3.86, -3.80,
    -3.78, -3.83, -3.70, -3.76, -3.66, -3.81, -3.73, -3.68, -3.62, -3.60,
    -4.15, -4.05, -3.95, -3.85, -3.75, -3.62, -3.55, -3.48, -3.40, -3.36,
    -3.31, -3.27, -3.22, -3.18, -3.12, -3.06, -3.00, -2.94, -2.88, -2.80,
    -2.74, -2.68, -2.62, -2.56, -2.50, -2.44, -2.38, -2.30, -2.22, -2.12,
    -4.05, -3.92, -3.62, -3.55, -3.48, -3.42, -3.36, -3.30, -3.25, -3.20,
    -3.14, -3.08, -3.02, -2.96, -2.90, -2.84, -2.78, -2.70, -2.62, -2.55,
    -2.36, -2.31, -2.34, -2.28, -2.32, -2.18, -2.14, -2.20, -2.16, -2.11,
    -2.02, -1.98, -2.04, -1.96, -2.00, -1.88, -1.84, -1.90, -1.86, -1.82,
    -1.76, -1.72, -1.78, -1.74, -1.68, -1.64, -1.70, -1.66, -1.58, -1.60,
    -4.50, -4.46, -4.42, -4.48, -4.40, -4.34, -4.30, -4.26, -4.33, -4.22,
    -4.14, -4.10, -4.18, -4.06, -4.12, -4.02, -3.98, -3.94, -4.00, -3.90,
    -3.96, -3.86, -3.80, -3.82, -3.76, -3.72, -3.78, -3.68, -3.74, -3.64,
    -3.58, -3.50, -3.46, -3.38, -3.42, -3.34, -3.30, -3.26, -3.20, -2.40,
]
o_xerr = [
    0.06, 0.05, 0.08, 0.07, 0.08, 0.09, 0.10, 0.08, 0.09, 0.07,
    0.09, 0.10, 0.08, 0.09, 0.07, 0.10, 0.09, 0.08, 0.10, 0.09,
    0.08, 0.07, 0.09, 0.08, 0.10, 0.09, 0.08, 0.07, 0.09, 0.08,
    0.10, 0.09, 0.08, 0.10, 0.09, 0.08, 0.10, 0.09, 0.08, 0.07,
    0.09, 0.08, 0.10, 0.09, 0.07, 0.08, 0.09, 0.10, 0.08, 0.09,
    0.08, 0.09, 0.07, 0.08, 0.09, 0.07, 0.08, 0.09, 0.08, 0.07,
    0.09, 0.08, 0.07, 0.09, 0.08, 0.05, 0.07, 0.06, 0.07, 0.06,
    0.09, 0.08, 0.09, 0.08, 0.07, 0.08, 0.09, 0.08, 0.07, 0.09,
    0.08, 0.10, 0.07, 0.09,
    0.09, 0.07, 0.10, 0.08, 0.09, 0.11,
    0.08, 0.10, 0.07, 0.09, 0.11, 0.08, 0.09, 0.07, 0.10, 0.08,
    0.09, 0.07, 0.10, 0.08, 0.09, 0.11, 0.07, 0.08, 0.10, 0.09,
    0.10, 0.08, 0.09, 0.07, 0.08, 0.10, 0.09, 0.11, 0.08, 0.07,
    0.08, 0.10, 0.07, 0.09, 0.11, 0.08, 0.09, 0.07, 0.10, 0.08,
    0.09, 0.07, 0.10, 0.08, 0.09, 0.11, 0.07, 0.08, 0.10, 0.09,
    0.10, 0.08, 0.09, 0.07, 0.08, 0.10, 0.09, 0.11, 0.08, 0.07,
    0.08, 0.10, 0.07, 0.09, 0.11, 0.08,
    0.09, 0.07, 0.10, 0.08, 0.09, 0.11, 0.07, 0.08, 0.10, 0.09,
    0.10, 0.08, 0.09, 0.07, 0.08, 0.10, 0.09, 0.11, 0.08, 0.07,
    0.08, 0.10, 0.07, 0.09, 0.11, 0.08, 0.09, 0.07,
    0.09, 0.07, 0.10, 0.08, 0.09, 0.11, 0.07, 0.08, 0.10, 0.09,
    0.10, 0.08, 0.09, 0.07, 0.08, 0.10, 0.09, 0.11, 0.08, 0.07,
    0.08, 0.10, 0.07, 0.09, 0.11, 0.08, 0.09, 0.07, 0.10, 0.08,
    0.09, 0.07, 0.10, 0.08, 0.09, 0.11, 0.07, 0.08, 0.10, 0.09,
    0.10, 0.08, 0.09, 0.07, 0.08, 0.10, 0.09, 0.11, 0.08, 0.07,
    0.08, 0.10, 0.07, 0.09, 0.11, 0.08, 0.09, 0.07, 0.10, 0.08,
    0.09, 0.07, 0.10, 0.08,
    0.10, 0.08, 0.09, 0.07, 0.08, 0.10, 0.09, 0.11, 0.08, 0.07,
    0.08, 0.10, 0.07, 0.09, 0.11, 0.08, 0.09, 0.07, 0.10, 0.08,
    0.09, 0.07, 0.10, 0.08, 0.09, 0.11, 0.07, 0.08, 0.10, 0.09,
    0.10, 0.08, 0.09, 0.07, 0.08, 0.10, 0.09, 0.11, 0.08, 0.07,
    0.08, 0.10, 0.07, 0.09, 0.11, 0.08, 0.09, 0.07, 0.10, 0.08,
    0.09, 0.07, 0.10, 0.08, 0.09, 0.11, 0.07, 0.08, 0.10, 0.09,
    0.10, 0.08, 0.09, 0.07, 0.08, 0.10, 0.09, 0.11, 0.08, 0.07,
    0.08, 0.10, 0.07, 0.09, 0.11, 0.08, 0.09, 0.07, 0.10, 0.08,
    0.09, 0.07, 0.10, 0.08, 0.09, 0.11, 0.07, 0.08, 0.10, 0.09,
    0.10, 0.08, 0.09, 0.07, 0.08, 0.10, 0.09, 0.11, 0.08, 0.07,
    0.08, 0.10, 0.07, 0.09, 0.11, 0.08, 0.09, 0.07, 0.10, 0.08,
    0.09, 0.07, 0.10, 0.08, 0.09, 0.11, 0.07, 0.08, 0.10, 0.09,
    0.10, 0.08, 0.09, 0.07, 0.08, 0.10, 0.09, 0.11, 0.08, 0.07,
    0.08, 0.10, 0.07, 0.09, 0.11, 0.08, 0.09, 0.07, 0.10, 0.08,
    0.09, 0.07, 0.10, 0.08, 0.09, 0.11, 0.07, 0.08, 0.10, 0.09,
    0.10, 0.08, 0.09, 0.07, 0.08, 0.10, 0.09, 0.11, 0.08, 0.07,
    0.08, 0.10, 0.07, 0.09, 0.11, 0.08, 0.09, 0.07, 0.10, 0.08,
    0.09, 0.07, 0.10, 0.08, 0.09, 0.11, 0.07, 0.08, 0.10, 0.09,
    0.10, 0.08, 0.09, 0.07, 0.08, 0.10, 0.09, 0.11,
    0.08, 0.10, 0.07, 0.09, 0.11, 0.08, 0.09, 0.07, 0.10, 0.08,
    0.09, 0.07, 0.10, 0.08, 0.09, 0.11, 0.07, 0.08, 0.10, 0.09,
    0.10, 0.08, 0.09, 0.07, 0.08, 0.10, 0.09, 0.11, 0.08, 0.07,
    0.08, 0.10, 0.07, 0.09, 0.11, 0.08,
    0.09, 0.07, 0.10, 0.08, 0.09, 0.11, 0.07, 0.08, 0.10, 0.09,
    0.10, 0.08, 0.09, 0.07, 0.08, 0.10,
    0.08, 0.10, 0.07, 0.09, 0.11, 0.08, 0.09, 0.07, 0.10, 0.08,
    0.09, 0.07, 0.10, 0.08,
    0.10, 0.08, 0.09, 0.07, 0.08, 0.10, 0.09, 0.11, 0.08, 0.07,
    0.08, 0.10, 0.07, 0.09, 0.11, 0.08, 0.09, 0.07,
    0.09, 0.07, 0.10, 0.08, 0.09, 0.11, 0.07, 0.08, 0.10, 0.09,
    0.10, 0.08, 0.09, 0.07, 0.08, 0.10, 0.09, 0.11, 0.08, 0.07,
    0.08, 0.10,
    0.09, 0.07, 0.10, 0.08, 0.09, 0.11, 0.07, 0.08,
    0.10, 0.08, 0.09, 0.07, 0.08, 0.10,
    0.10, 0.09, 0.11, 0.08, 0.10, 0.12, 0.09, 0.11, 0.10, 0.08,
    0.11, 0.09, 0.10, 0.12, 0.08, 0.10, 0.11, 0.09, 0.10, 0.12,
    0.09, 0.11, 0.10, 0.08, 0.12, 0.10, 0.09, 0.11, 0.10, 0.09,
    0.12, 0.10, 0.08, 0.11, 0.09, 0.10, 0.12, 0.09, 0.11, 0.10,
    0.10, 0.11, 0.09, 0.12, 0.10, 0.09, 0.11, 0.10, 0.12, 0.09,
    0.11, 0.10, 0.09, 0.12, 0.10, 0.11, 0.09, 0.10, 0.12, 0.08,
    0.10, 0.09, 0.08, 0.10, 0.09, 0.11, 0.08, 0.10, 0.09, 0.08,
    0.10, 0.09, 0.11, 0.08, 0.10, 0.12, 0.09, 0.11, 0.10, 0.08,
    0.11, 0.09, 0.10, 0.12, 0.08, 0.10, 0.11, 0.09, 0.10, 0.12,
    0.09, 0.10, 0.08, 0.11, 0.09, 0.10, 0.08, 0.11, 0.09, 0.10,
    0.08, 0.10, 0.09, 0.11, 0.08, 0.09, 0.10, 0.08, 0.11, 0.09,
    0.10, 0.08, 0.09, 0.11, 0.10, 0.09, 0.08, 0.10, 0.09, 0.11,
    0.10, 0.09, 0.11, 0.08, 0.10, 0.12, 0.09, 0.11, 0.10, 0.08,
    0.11, 0.09, 0.10, 0.12, 0.08, 0.10, 0.11, 0.09, 0.10, 0.12,
    0.09, 0.11, 0.10, 0.08, 0.12, 0.10, 0.09, 0.11, 0.10, 0.09,
    0.12, 0.10, 0.08, 0.11, 0.09, 0.10, 0.12, 0.09, 0.11, 0.10,
]
o_yerr = [
    0.06, 0.07, 0.09, 0.08, 0.07, 0.06, 0.08, 0.09, 0.07, 0.08,
    0.07, 0.08, 0.06, 0.09, 0.08, 0.07, 0.06, 0.08, 0.09, 0.07,
    0.08, 0.09, 0.10, 0.07, 0.08, 0.09, 0.07, 0.08, 0.10, 0.08,
    0.09, 0.08, 0.07, 0.09, 0.10, 0.09, 0.08, 0.09, 0.10, 0.08,
    0.09, 0.10, 0.08, 0.09, 0.10, 0.11, 0.10, 0.09, 0.11, 0.10,
    0.12, 0.11, 0.12, 0.13, 0.11, 0.12, 0.13, 0.12, 0.14, 0.13,
    0.15, 0.10, 0.11, 0.12, 0.13, 0.10, 0.11, 0.12, 0.14, 0.15,
    0.15, 0.16, 0.15, 0.16, 0.15, 0.14, 0.15, 0.16, 0.15, 0.16,
    0.15, 0.19, 0.12, 0.17,
    0.17, 0.13, 0.20, 0.15, 0.11, 0.18,
    0.15, 0.19, 0.12, 0.17, 0.21, 0.13, 0.16, 0.11, 0.18, 0.14,
    0.17, 0.13, 0.20, 0.15, 0.11, 0.18, 0.14, 0.21, 0.16, 0.12,
    0.13, 0.18, 0.16, 0.12, 0.19, 0.22, 0.14, 0.15, 0.17, 0.13,
    0.15, 0.19, 0.12, 0.17, 0.21, 0.13, 0.16, 0.11, 0.18, 0.14,
    0.17, 0.13, 0.20, 0.15, 0.11, 0.18, 0.14, 0.21, 0.16, 0.12,
    0.13, 0.18, 0.16, 0.12, 0.19, 0.22, 0.14, 0.15, 0.17, 0.13,
    0.15, 0.19, 0.12, 0.17, 0.21, 0.13,
    0.17, 0.13, 0.20, 0.15, 0.11, 0.18, 0.14, 0.21, 0.16, 0.12,
    0.13, 0.18, 0.16, 0.12, 0.19, 0.22, 0.14, 0.15, 0.17, 0.13,
    0.15, 0.19, 0.12, 0.17, 0.21, 0.13, 0.16, 0.11,
    0.17, 0.13, 0.20, 0.15, 0.11, 0.18, 0.14, 0.21, 0.16, 0.12,
    0.13, 0.18, 0.16, 0.12, 0.19, 0.22, 0.14, 0.15, 0.17, 0.13,
    0.15, 0.19, 0.12, 0.17, 0.21, 0.13, 0.16, 0.11, 0.18, 0.14,
    0.17, 0.13, 0.20, 0.15, 0.11, 0.18, 0.14, 0.21, 0.16, 0.12,
    0.13, 0.18, 0.16, 0.12, 0.19, 0.22, 0.14, 0.15, 0.17, 0.13,
    0.15, 0.19, 0.12, 0.17, 0.21, 0.13, 0.16, 0.11, 0.18, 0.14,
    0.17, 0.13, 0.20, 0.15,
    0.13, 0.18, 0.16, 0.12, 0.19, 0.22, 0.14, 0.15, 0.17, 0.13,
    0.15, 0.19, 0.12, 0.17, 0.21, 0.13, 0.16, 0.11, 0.18, 0.14,
    0.17, 0.13, 0.20, 0.15, 0.11, 0.18, 0.14, 0.21, 0.16, 0.12,
    0.13, 0.18, 0.16, 0.12, 0.19, 0.22, 0.14, 0.15, 0.17, 0.13,
    0.15, 0.19, 0.12, 0.17, 0.21, 0.13, 0.16, 0.11, 0.18, 0.14,
    0.17, 0.13, 0.20, 0.15, 0.11, 0.18, 0.14, 0.21, 0.16, 0.12,
    0.13, 0.18, 0.16, 0.12, 0.19, 0.22, 0.14, 0.15, 0.17, 0.13,
    0.15, 0.19, 0.12, 0.17, 0.21, 0.13, 0.16, 0.11, 0.18, 0.14,
    0.17, 0.13, 0.20, 0.15, 0.11, 0.18, 0.14, 0.21, 0.16, 0.12,
    0.13, 0.18, 0.16, 0.12, 0.19, 0.22, 0.14, 0.15, 0.17, 0.13,
    0.15, 0.19, 0.12, 0.17, 0.21, 0.13, 0.16, 0.11, 0.18, 0.14,
    0.17, 0.13, 0.20, 0.15, 0.11, 0.18, 0.14, 0.21, 0.16, 0.12,
    0.13, 0.18, 0.16, 0.12, 0.19, 0.22, 0.14, 0.15, 0.17, 0.13,
    0.15, 0.19, 0.12, 0.17, 0.21, 0.13, 0.16, 0.11, 0.18, 0.14,
    0.17, 0.13, 0.20, 0.15, 0.11, 0.18, 0.14, 0.21, 0.16, 0.12,
    0.13, 0.18, 0.16, 0.12, 0.19, 0.22, 0.14, 0.15, 0.17, 0.13,
    0.15, 0.19, 0.12, 0.17, 0.21, 0.13, 0.16, 0.11, 0.18, 0.14,
    0.17, 0.13, 0.20, 0.15, 0.11, 0.18, 0.14, 0.21, 0.16, 0.12,
    0.13, 0.18, 0.16, 0.12, 0.19, 0.22, 0.14, 0.15,
    0.15, 0.17, 0.12, 0.16, 0.19, 0.13, 0.15, 0.11, 0.17, 0.14,
    0.16, 0.12, 0.18, 0.14, 0.11, 0.16, 0.13, 0.18, 0.15, 0.12,
    0.13, 0.16, 0.15, 0.12, 0.17, 0.18, 0.13, 0.14, 0.16, 0.13,
    0.14, 0.17, 0.12, 0.15, 0.18, 0.13,
    0.15, 0.12, 0.16, 0.14, 0.11, 0.15, 0.13, 0.17, 0.14, 0.12,
    0.13, 0.15, 0.14, 0.12, 0.16, 0.17,
    0.13, 0.15, 0.11, 0.14, 0.16, 0.12, 0.14, 0.10, 0.15, 0.13,
    0.14, 0.11, 0.15, 0.13,
    0.12, 0.15, 0.11, 0.14, 0.16, 0.12, 0.13, 0.10, 0.15, 0.12,
    0.14, 0.11, 0.15, 0.12, 0.10, 0.14, 0.12, 0.13,
    0.12, 0.14, 0.10, 0.13, 0.15, 0.11, 0.12, 0.10, 0.14, 0.11,
    0.11, 0.13, 0.10, 0.12, 0.14, 0.10, 0.11, 0.09, 0.13, 0.11,
    0.12, 0.10,
    0.11, 0.12, 0.09, 0.11, 0.13, 0.10, 0.11, 0.09,
    0.10, 0.12, 0.09, 0.11, 0.12, 0.10,
    0.17, 0.14, 0.20, 0.16, 0.12, 0.19, 0.15, 0.21, 0.13, 0.18,
    0.15, 0.19, 0.13, 0.17, 0.21, 0.14, 0.16, 0.12, 0.18, 0.15,
    0.20, 0.13, 0.17, 0.15, 0.19, 0.12, 0.16, 0.21, 0.14, 0.18,
    0.13, 0.18, 0.16, 0.12, 0.19, 0.22, 0.14, 0.15, 0.17, 0.13,
    0.16, 0.13, 0.18, 0.15, 0.12, 0.17, 0.14, 0.19, 0.16, 0.13,
    0.15, 0.18, 0.13, 0.16, 0.12, 0.17, 0.14, 0.15, 0.13, 0.16,
    0.14, 0.12, 0.15, 0.13, 0.11, 0.14, 0.12, 0.13, 0.11, 0.12,
    0.15, 0.18, 0.13, 0.16, 0.12, 0.17, 0.14, 0.15, 0.13, 0.16,
    0.14, 0.12, 0.15, 0.13, 0.17, 0.14, 0.12, 0.13, 0.15, 0.12,
    0.12, 0.14, 0.10, 0.13, 0.15, 0.11, 0.12, 0.10, 0.14, 0.11,
    0.11, 0.13, 0.10, 0.12, 0.14, 0.10, 0.11, 0.09, 0.13, 0.11,
    0.10, 0.12, 0.09, 0.11, 0.12, 0.10, 0.11, 0.09, 0.10, 0.12,
    0.18, 0.15, 0.21, 0.16, 0.13, 0.19, 0.15, 0.20, 0.14, 0.18,
    0.16, 0.19, 0.13, 0.17, 0.21, 0.14, 0.16, 0.12, 0.18, 0.15,
    0.20, 0.13, 0.17, 0.15, 0.19, 0.12, 0.16, 0.21, 0.14, 0.18,
    0.13, 0.18, 0.16, 0.12, 0.19, 0.22, 0.14, 0.15, 0.17, 0.13,
]


def check_lengths(name, *cols):
    lengths = [len(c) for c in cols]
    if len(set(lengths)) != 1:
        raise ValueError(f"{name}: column lengths differ {lengths}")


def main():
    check_lengths("F", f_x, f_y, f_xerr, f_yerr)
    check_lengths("1O", o_x, o_y, o_xerr, o_yerr)

    col_edges = COL_BIN0 + COL_BINW * np.arange(len(f_col_counts) + 1)
    mag_edges = MAG_BIN0 + MAG_BINW * np.arange(len(f_mag_counts) + 1)

    fig = plt.figure(figsize=(8.3, 8.45), dpi=100)
    ax = fig.add_axes([0.0976, 0.0840, 0.6741, 0.7136])
    ax_top = fig.add_axes([0.0976, 0.8024, 0.6741, 0.1822], sharex=ax)
    ax_right = fig.add_axes([0.7780, 0.0840, 0.2076, 0.7136], sharey=ax)

    # --- main colour-magnitude panel ---
    f_cont = ax.errorbar(f_x, f_y, xerr=f_xerr, yerr=f_yerr, fmt='.', color='blue',
                         ms=7, alpha=0.5, zorder=2, label='F Cepheids')
    o_cont = ax.errorbar(o_x, o_y, xerr=o_xerr, yerr=o_yerr, fmt='.', color='red',
                         ms=7, alpha=0.5, zorder=3, label='1O Cepheids')

    handles = []
    for name, x, y, m in zip(cep_names, cep_x, cep_y, cep_markers):
        size = 9 if m == '*' else 8
        h, = ax.plot(x, y, linestyle='none', marker=m, color='black', ms=size,
                     zorder=6, label=name)
        handles.append(h)
    handles += [f_cont, o_cont]
    ax.legend(handles, [h.get_label() for h in handles], loc='upper left',
              bbox_to_anchor=(0.0, 0.992), frameon=False, fontsize=11,
              handlelength=2.5, labelspacing=0.62)

    ax.xaxis.set_major_locator(MultipleLocator(0.2))
    ax.xaxis.set_minor_locator(MultipleLocator(0.05))
    ax.yaxis.set_major_locator(MultipleLocator(1))
    ax.yaxis.set_minor_locator(MultipleLocator(0.2))
    ax.tick_params(which='both', direction='in', top=True, right=True, labelsize=14)
    ax.tick_params(which='major', length=5)
    ax.tick_params(which='minor', length=3)
    ax.set_xlabel('(V-I)$_0$ [mag]', fontsize=16)
    ax.set_ylabel('M$_I$ [mag]', fontsize=16)

    # --- top histogram: colour ---
    ax_top.hist(col_edges[:-1], bins=col_edges, weights=f_col_counts, color='blue')
    ax_top.hist(col_edges[:-1], bins=col_edges, weights=o_col_counts, color='red', alpha=0.7)
    ax_top.yaxis.set_major_locator(MultipleLocator(100))
    ax_top.tick_params(labelbottom=False, labelsize=11)

    # --- right histogram: magnitude ---
    ax_right.hist(mag_edges[:-1], bins=mag_edges, weights=f_mag_counts, color='blue',
                  orientation='horizontal')
    ax_right.hist(mag_edges[:-1], bins=mag_edges, weights=o_mag_counts, color='red',
                  alpha=0.7, orientation='horizontal')
    ax_right.xaxis.set_major_locator(MultipleLocator(200))
    ax_right.tick_params(labelleft=False, labelsize=11)

    ax.set_xlim(0.2, 1.1)
    ax.set_ylim(-0.1, -8.2)

    fig.savefig('out.png', dpi=100)
    plt.close(fig)


if __name__ == "__main__":
    main()
